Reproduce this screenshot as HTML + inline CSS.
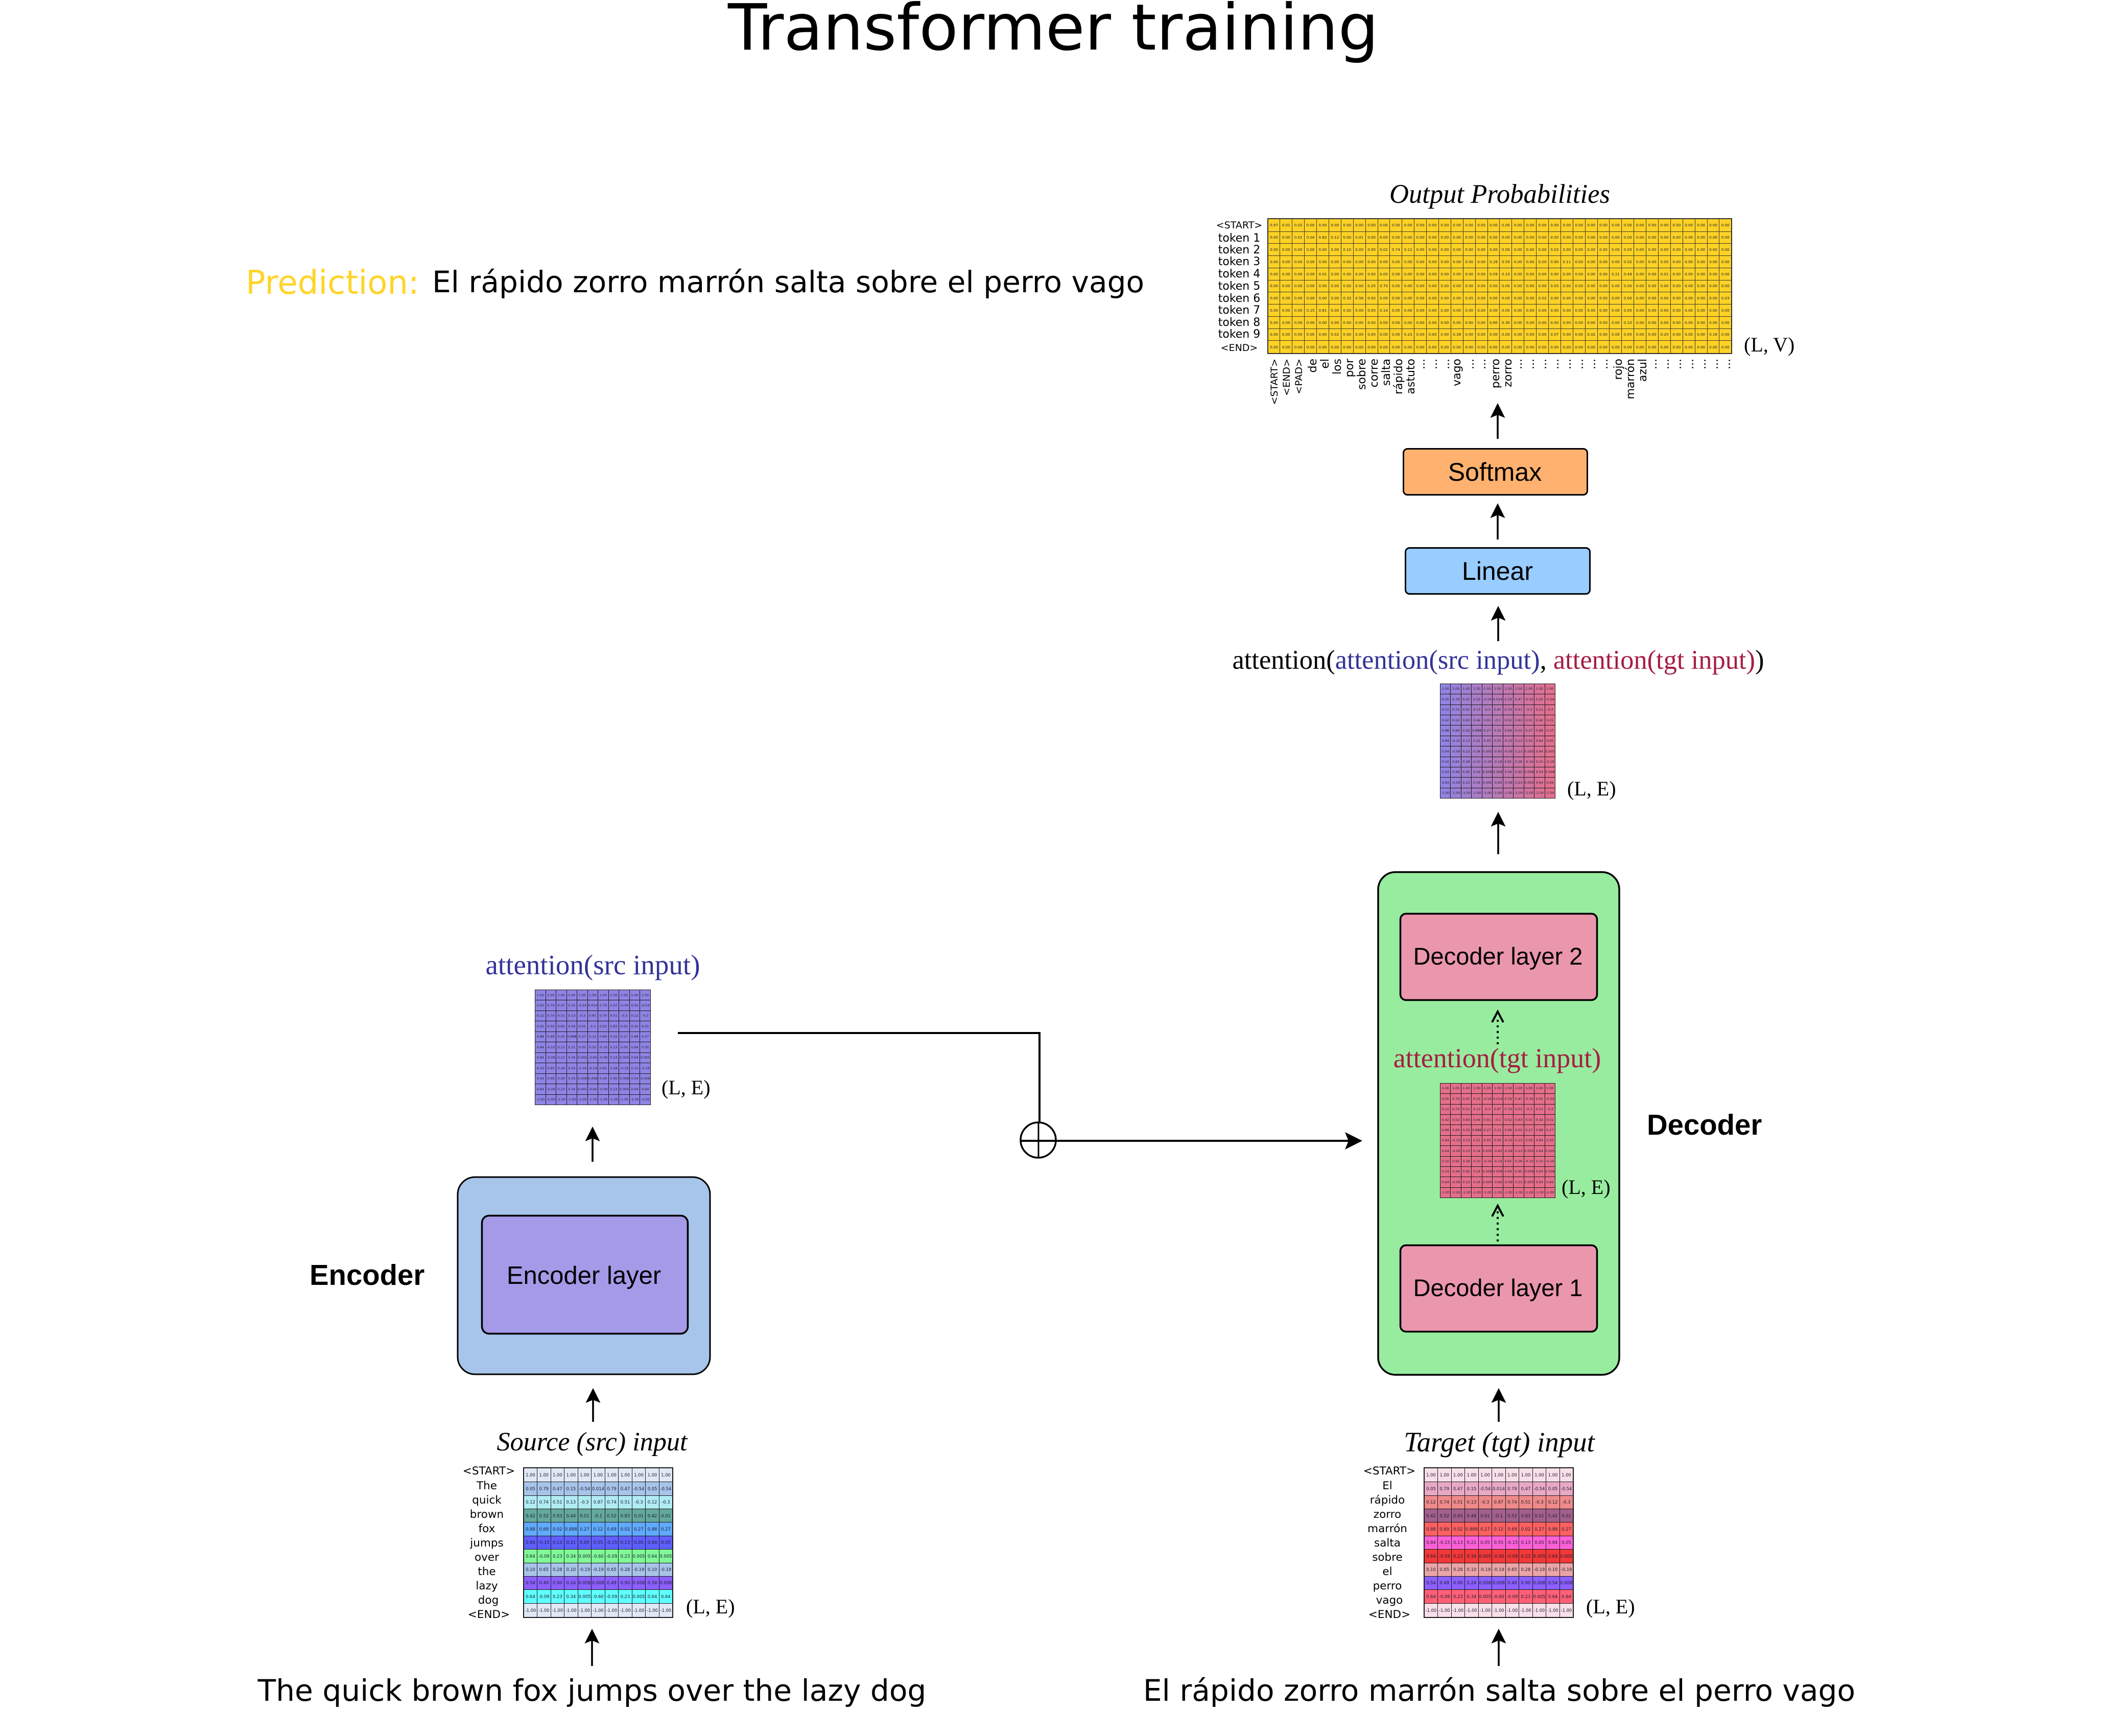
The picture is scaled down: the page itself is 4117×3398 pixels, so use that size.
<!DOCTYPE html>
<html><head><meta charset="utf-8"><style>
html,body{margin:0;padding:0;background:#fff}
body{position:relative;width:4117px;height:3398px;overflow:hidden}
svg{position:absolute;left:0;top:0}
table{position:absolute;border-collapse:collapse;table-layout:fixed;border:2px solid #1a1a1a}
td{padding:0;text-align:center;white-space:nowrap;overflow:visible;border:1px solid #1a1a1a;font-family:"DejaVu Sans",sans-serif;color:#1c1c30;line-height:1}
.s td{font-size:8.4px}
.a{border-width:1.5px}
.a td{font-size:6.4px}
.o td{font-size:7.2px;border-color:#3a3a2a}
.o{background:#fdd225;border-color:#333}
.d{font-family:"DejaVu Sans",sans-serif}
.f{font-family:"Liberation Serif",serif}
.h{font-family:"Liberation Sans",sans-serif}
.i{font-style:italic;font-size:52.2px;text-anchor:middle}
.le{font-size:40px}
.c{text-anchor:middle}
.r{font-size:22px;text-anchor:end}
.r2{font-size:19px;text-anchor:end}
</style></head><body>
<svg width="4117" height="3398" viewBox="0 0 4117 3398" xmlns="http://www.w3.org/2000/svg">
<defs><g id="up"><path d="M0 0L14.5 29L0 23L-14.5 29Z" fill="#000"/></g></defs>
<text class="d c" x="2062" y="97" font-size="125">Transformer training</text>
<text class="d" x="481" y="575" font-size="64" fill="#ffd42a">Prediction:</text>
<text class="d" x="846" y="572" font-size="58.2">El rápido zorro marrón salta sobre el perro vago</text>
<text class="f i" x="2936" y="397" style="font-size:52.6px">Output Probabilities</text>

<g class="d" font-size="22" text-anchor="middle">
<text x="2426" y="447" font-size="19">&lt;START&gt;</text><text x="2426" y="473">token 1</text><text x="2426" y="496">token 2</text><text x="2426" y="519">token 3</text><text x="2426" y="543">token 4</text><text x="2426" y="567">token 5</text><text x="2426" y="591">token 6</text><text x="2426" y="614">token 7</text><text x="2426" y="638">token 8</text><text x="2426" y="661">token 9</text><text x="2426" y="687" font-size="19">&lt;END&gt;</text>
</g>
<g class="d">
<text class="r2" transform="translate(2501,702) rotate(-90)">&lt;START&gt;</text>
<text class="r2" transform="translate(2525,702) rotate(-90)">&lt;END&gt;</text>
<text class="r2" transform="translate(2549,702) rotate(-90)">&lt;PAD&gt;</text>
<text class="r" transform="translate(2577,702) rotate(-90)">de</text>
<text class="r" transform="translate(2601,702) rotate(-90)">el</text>
<text class="r" transform="translate(2625,702) rotate(-90)">los</text>
<text class="r" transform="translate(2649,702) rotate(-90)">por</text>
<text class="r" transform="translate(2673,702) rotate(-90)">sobre</text>
<text class="r" transform="translate(2697,702) rotate(-90)">corre</text>
<text class="r" transform="translate(2721,702) rotate(-90)">salta</text>
<text class="r" transform="translate(2745,702) rotate(-90)">rápido</text>
<text class="r" transform="translate(2769,702) rotate(-90)">astuto</text>
<text class="r" transform="translate(2789,702) rotate(-90)">...</text>
<text class="r" transform="translate(2813,702) rotate(-90)">...</text>
<text class="r" transform="translate(2837,702) rotate(-90)">...</text>
<text class="r" transform="translate(2859,702) rotate(-90)">vago</text>
<text class="r" transform="translate(2885,702) rotate(-90)">...</text>
<text class="r" transform="translate(2908,702) rotate(-90)">...</text>
<text class="r" transform="translate(2935,702) rotate(-90)">perro</text>
<text class="r" transform="translate(2959,702) rotate(-90)">zorro</text>
<text class="r" transform="translate(2979,702) rotate(-90)">...</text>
<text class="r" transform="translate(3003,702) rotate(-90)">...</text>
<text class="r" transform="translate(3027,702) rotate(-90)">...</text>
<text class="r" transform="translate(3051,702) rotate(-90)">...</text>
<text class="r" transform="translate(3075,702) rotate(-90)">...</text>
<text class="r" transform="translate(3099,702) rotate(-90)">...</text>
<text class="r" transform="translate(3123,702) rotate(-90)">...</text>
<text class="r" transform="translate(3147,702) rotate(-90)">...</text>
<text class="r" transform="translate(3175,702) rotate(-90)">rojo</text>
<text class="r" transform="translate(3199,702) rotate(-90)">marrón</text>
<text class="r" transform="translate(3223,702) rotate(-90)">azul</text>
<text class="r" transform="translate(3243,702) rotate(-90)">...</text>
<text class="r" transform="translate(3267,702) rotate(-90)">...</text>
<text class="r" transform="translate(3291,702) rotate(-90)">...</text>
<text class="r" transform="translate(3315,702) rotate(-90)">...</text>
<text class="r" transform="translate(3339,702) rotate(-90)">...</text>
<text class="r" transform="translate(3363,702) rotate(-90)">...</text>
<text class="r" transform="translate(3387,702) rotate(-90)">...</text>
</g>
<text class="f le" x="3414" y="688">(L, V)</text>

<!-- arrows -->
<g stroke="#000" stroke-width="3.6" fill="none">
<path d="M2932 859V810M2932 1056V1005M2933 1255V1203M2933 1672V1610M1161 2783V2735M1160 2274V2225M1159 3261V3205M2934 2783V2735M2934 3261V3205"/>
<path d="M1327 2022H2035V2196" stroke-width="4" stroke-linejoin="miter"/>
<path d="M1997 2233H2645" stroke-width="4"/>
<path d="M2033 2196V2267" stroke-width="3"/>
<circle cx="2032.5" cy="2231.5" r="34.5" stroke-width="3.5"/>
</g>
<path d="M2667 2233L2633 2216L2640 2233L2633 2250Z" fill="#000"/>
<use href="#up" x="2932" y="789"/><use href="#up" x="2932" y="985"/><use href="#up" x="2933" y="1186"/><use href="#up" x="2933" y="1589"/>
<use href="#up" x="1160" y="2205"/><use href="#up" x="1161" y="2717"/><use href="#up" x="1159" y="3188"/><use href="#up" x="2934" y="2717"/><use href="#up" x="2934" y="3188"/>

<!-- boxes -->
<rect x="2747.5" y="878.5" width="360" height="90" rx="8" fill="#ffb26f" stroke="#000" stroke-width="3"/>
<text class="h c" x="2926.5" y="941" font-size="50">Softmax</text>
<rect x="2751.5" y="1072.5" width="361" height="90" rx="8" fill="#99ccff" stroke="#000" stroke-width="3"/>
<text class="h c" x="2931.5" y="1135" font-size="50">Linear</text>

<rect x="896" y="2304" width="494" height="386" rx="34" fill="#a7c4ea" stroke="#000" stroke-width="3"/>
<rect x="943.5" y="2379.5" width="403" height="231" rx="14" fill="#a59ae8" stroke="#000" stroke-width="3.5"/>
<text class="h c" x="1143" y="2513" font-size="49">Encoder layer</text>
<text class="h" x="606" y="2515" font-size="56.3" font-weight="bold">Encoder</text>

<rect x="2698" y="1707" width="472" height="984" rx="34" fill="#98ec9f" stroke="#000" stroke-width="3.5"/>
<rect x="2741.5" y="1788.5" width="385" height="169" rx="11" fill="#ea96ad" stroke="#000" stroke-width="3.5"/>
<text class="h c" x="2932.5" y="1888" font-size="47">Decoder layer 2</text>
<rect x="2741.5" y="2437.5" width="385" height="169" rx="11" fill="#ea96ad" stroke="#000" stroke-width="3.5"/>
<text class="h c" x="2932.5" y="2537" font-size="47">Decoder layer 1</text>
<text class="h" x="3224" y="2221" font-size="56.3" font-weight="bold">Decoder</text>

<!-- dotted arrows -->
<g stroke="#000" fill="none" stroke-width="4">
<path d="M2932 2044V1995M2932 2430V2368" stroke-dasharray="4 7"/>
<path d="M2921 2381L2932 2360L2943 2381M2921 2001L2932 1980L2943 2001"/>
</g>

<text class="f c" x="2933" y="1309" font-size="52.5">attention(<tspan fill="#333399">attention(src input)</tspan>, <tspan fill="#a61e42">attention(tgt input)</tspan>)</text>
<text class="f c" x="1160.5" y="1907" font-size="55" fill="#333399">attention(src input)</text>
<text class="f c" x="2931" y="2089" font-size="54" fill="#a61e42">attention(tgt input)</text>
<text class="f le" x="3068" y="1557">(L, E)</text>
<text class="f le" x="1295" y="2142">(L, E)</text>
<text class="f le" x="3057" y="2337">(L, E)</text>
<text class="f le" x="1343" y="3158">(L, E)</text>
<text class="f le" x="3105" y="3158">(L, E)</text>
<text class="f i" x="1159" y="2839">Source (src) input</text>
<text class="f i" x="2935" y="2841" style="font-size:54.8px">Target (tgt) input</text>

<g class="d c" font-size="21.5">
<text x="957" y="2886">&lt;START&gt;</text><text x="953" y="2915">The</text><text x="953" y="2943">quick</text><text x="953" y="2971">brown</text><text x="953" y="2999">fox</text><text x="953" y="3027">jumps</text><text x="953" y="3055">over</text><text x="953" y="3083">the</text><text x="953" y="3111">lazy</text><text x="956" y="3139">dog</text><text x="957" y="3167">&lt;END&gt;</text>
<text x="2720" y="2886">&lt;START&gt;</text><text x="2716" y="2915">El</text><text x="2716" y="2943">rápido</text><text x="2716" y="2971">zorro</text><text x="2716" y="2999">marrón</text><text x="2716" y="3027">salta</text><text x="2716" y="3055">sobre</text><text x="2716" y="3083">el</text><text x="2716" y="3111">perro</text><text x="2720" y="3139">vago</text><text x="2720" y="3167">&lt;END&gt;</text>
</g>
<text class="d c" x="1159" y="3329" font-size="58.2">The quick brown fox jumps over the lazy dog</text>
<text class="d c" x="2935" y="3329" font-size="58.2">El rápido zorro marrón salta sobre el perro vago</text>
</svg>

<!-- output table -->
<table class="o" style="left:2481px;top:427px;width:910px;height:266px">
<tr><td>0.97<td>0.01<td>0.02<td>0.00<td>0.00<td>0.00<td>0.00<td>0.00<td>0.00<td>0.00<td>0.00<td>0.00<td>0.00<td>0.00<td>0.00<td>0.00<td>0.00<td>0.00<td>0.00<td>0.00<td>0.00<td>0.00<td>0.00<td>0.00<td>0.00<td>0.00<td>0.00<td>0.00<td>0.00<td>0.00<td>0.00<td>0.00<td>0.00<td>0.00<td>0.00<td>0.00<td>0.00<td>0.00
<tr><td>0.00<td>0.00<td>0.01<td>0.04<td>0.82<td>0.12<td>0.00<td>0.01<td>0.00<td>0.00<td>0.00<td>0.00<td>0.00<td>0.00<td>0.00<td>0.00<td>0.00<td>0.00<td>0.00<td>0.00<td>0.00<td>0.00<td>0.00<td>0.00<td>0.00<td>0.00<td>0.00<td>0.00<td>0.00<td>0.00<td>0.00<td>0.00<td>0.00<td>0.00<td>0.00<td>0.00<td>0.00<td>0.00
<tr><td>0.00<td>0.00<td>0.00<td>0.00<td>0.00<td>0.00<td>0.10<td>0.00<td>0.00<td>0.02<td>0.74<td>0.11<td>0.00<td>0.00<td>0.00<td>0.00<td>0.00<td>0.00<td>0.00<td>0.00<td>0.00<td>0.00<td>0.00<td>0.03<td>0.00<td>0.00<td>0.00<td>0.00<td>0.00<td>0.00<td>0.00<td>0.00<td>0.00<td>0.00<td>0.00<td>0.00<td>0.00<td>0.00
<tr><td>0.00<td>0.00<td>0.00<td>0.00<td>0.00<td>0.00<td>0.00<td>0.00<td>0.00<td>0.00<td>0.00<td>0.00<td>0.00<td>0.00<td>0.00<td>0.00<td>0.00<td>0.00<td>0.28<td>0.59<td>0.00<td>0.00<td>0.00<td>0.00<td>0.11<td>0.00<td>0.00<td>0.00<td>0.00<td>0.02<td>0.00<td>0.00<td>0.00<td>0.00<td>0.00<td>0.00<td>0.00<td>0.00
<tr><td>0.00<td>0.00<td>0.00<td>0.00<td>0.01<td>0.00<td>0.00<td>0.00<td>0.00<td>0.00<td>0.00<td>0.00<td>0.00<td>0.00<td>0.00<td>0.00<td>0.00<td>0.00<td>0.09<td>0.19<td>0.00<td>0.00<td>0.00<td>0.00<td>0.00<td>0.00<td>0.00<td>0.00<td>0.21<td>0.49<td>0.00<td>0.00<td>0.01<td>0.00<td>0.00<td>0.00<td>0.00<td>0.00
<tr><td>0.00<td>0.00<td>0.00<td>0.00<td>0.00<td>0.00<td>0.00<td>0.00<td>0.25<td>0.70<td>0.00<td>0.00<td>0.00<td>0.00<td>0.00<td>0.00<td>0.00<td>0.00<td>0.00<td>0.00<td>0.00<td>0.00<td>0.00<td>0.05<td>0.00<td>0.00<td>0.00<td>0.00<td>0.00<td>0.00<td>0.00<td>0.00<td>0.00<td>0.00<td>0.00<td>0.00<td>0.00<td>0.00
<tr><td>0.00<td>0.00<td>0.00<td>0.00<td>0.00<td>0.00<td>0.32<td>0.58<td>0.00<td>0.00<td>0.00<td>0.00<td>0.00<td>0.00<td>0.00<td>0.00<td>0.05<td>0.00<td>0.00<td>0.00<td>0.00<td>0.00<td>0.02<td>0.00<td>0.00<td>0.00<td>0.00<td>0.00<td>0.00<td>0.00<td>0.00<td>0.00<td>0.00<td>0.00<td>0.00<td>0.00<td>0.00<td>0.03
<tr><td>0.00<td>0.00<td>0.00<td>0.15<td>0.81<td>0.00<td>0.00<td>0.00<td>0.00<td>0.14<td>0.00<td>0.00<td>0.00<td>0.00<td>0.00<td>0.00<td>0.00<td>0.00<td>0.00<td>0.00<td>0.00<td>0.00<td>0.00<td>0.00<td>0.00<td>0.00<td>0.00<td>0.00<td>0.00<td>0.00<td>0.00<td>0.00<td>0.00<td>0.00<td>0.00<td>0.00<td>0.00<td>0.00
<tr><td>0.00<td>0.00<td>0.00<td>0.00<td>0.00<td>0.00<td>0.00<td>0.00<td>0.00<td>0.00<td>0.00<td>0.00<td>0.00<td>0.00<td>0.00<td>0.00<td>0.00<td>0.00<td>0.60<td>0.30<td>0.00<td>0.00<td>0.00<td>0.00<td>0.00<td>0.00<td>0.00<td>0.00<td>0.00<td>0.10<td>0.00<td>0.00<td>0.00<td>0.00<td>0.00<td>0.00<td>0.00<td>0.00
<tr><td>0.00<td>0.00<td>0.00<td>0.00<td>0.00<td>0.02<td>0.00<td>0.00<td>0.00<td>0.00<td>0.00<td>0.23<td>0.00<td>0.00<td>0.00<td>0.38<td>0.00<td>0.00<td>0.00<td>0.00<td>0.00<td>0.00<td>0.00<td>0.07<td>0.00<td>0.00<td>0.02<td>0.00<td>0.00<td>0.00<td>0.00<td>0.00<td>0.20<td>0.00<td>0.00<td>0.00<td>0.18<td>0.00
<tr><td>0.00<td>0.00<td>0.00<td>0.00<td>0.00<td>0.00<td>0.00<td>0.00<td>0.00<td>0.00<td>0.00<td>0.00<td>0.00<td>0.00<td>0.00<td>0.00<td>0.00<td>0.00<td>0.00<td>0.00<td>0.00<td>0.00<td>0.00<td>0.00<td>0.00<td>0.00<td>0.00<td>0.00<td>0.00<td>0.00<td>0.00<td>0.00<td>0.00<td>0.00<td>0.00<td>0.00<td>0.00<td>0.00
</table>

<!-- combined attention -->
<table class="a" style="left:2819px;top:1338px;width:226px;height:225px;background:linear-gradient(90deg,#8f84e4,#e56f8a)">
<tr><td>1.00<td>1.00<td>1.00<td>1.00<td>1.00<td>1.00<td>1.00<td>1.00<td>1.00<td>1.00<td>1.00
<tr><td>0.05<td>0.79<td>0.47<td>0.15<td>-0.54<td>0.014<td>0.79<td>0.47<td>-0.54<td>0.05<td>-0.54
<tr><td>0.12<td>0.74<td>0.51<td>0.13<td>-0.3<td>0.87<td>0.74<td>0.51<td>-0.3<td>0.12<td>-0.3
<tr><td>0.42<td>0.52<td>0.83<td>0.44<td>0.01<td>-0.1<td>0.52<td>0.83<td>0.01<td>0.42<td>0.01
<tr><td>0.88<td>0.69<td>0.02<td>0.888<td>0.27<td>0.12<td>0.69<td>0.02<td>0.27<td>0.88<td>0.27
<tr><td>0.84<td>-0.15<td>0.13<td>0.21<td>0.05<td>0.55<td>-0.15<td>0.13<td>0.05<td>0.84<td>0.05
<tr><td>0.64<td>-0.09<td>0.23<td>0.34<td>0.005<td>-0.60<td>-0.09<td>0.23<td>0.005<td>0.64<td>0.005
<tr><td>0.10<td>0.65<td>0.28<td>0.10<td>-0.19<td>-0.19<td>0.65<td>0.28<td>-0.19<td>0.10<td>-0.19
<tr><td>0.54<td>0.49<td>0.90<td>0.24<td>0.008<td>0.008<td>0.49<td>0.90<td>0.008<td>0.54<td>0.008
<tr><td>0.64<td>-0.09<td>0.23<td>0.34<td>0.005<td>-0.60<td>-0.09<td>0.23<td>0.005<td>0.64<td>0.64
<tr><td>-1.00<td>-1.00<td>-1.00<td>-1.00<td>-1.00<td>-1.00<td>-1.00<td>-1.00<td>-1.00<td>-1.00<td>-1.00
</table>

<!-- src attention -->
<table class="a" style="left:1047px;top:1937px;width:227px;height:226px;background:#8f84e4">
<tr><td>1.00<td>1.00<td>1.00<td>1.00<td>1.00<td>1.00<td>1.00<td>1.00<td>1.00<td>1.00<td>1.00
<tr><td>0.05<td>0.79<td>0.47<td>0.15<td>-0.54<td>0.014<td>0.79<td>0.47<td>-0.54<td>0.05<td>-0.54
<tr><td>0.12<td>0.74<td>0.51<td>0.13<td>-0.3<td>0.87<td>0.74<td>0.51<td>-0.3<td>0.12<td>-0.3
<tr><td>0.42<td>0.52<td>0.83<td>0.44<td>0.01<td>-0.1<td>0.52<td>0.83<td>0.01<td>0.42<td>0.01
<tr><td>0.88<td>0.69<td>0.02<td>0.888<td>0.27<td>0.12<td>0.69<td>0.02<td>0.27<td>0.88<td>0.27
<tr><td>0.84<td>-0.15<td>0.13<td>0.21<td>0.05<td>0.55<td>-0.15<td>0.13<td>0.05<td>0.84<td>0.05
<tr><td>0.64<td>-0.09<td>0.23<td>0.34<td>0.005<td>-0.60<td>-0.09<td>0.23<td>0.005<td>0.64<td>0.005
<tr><td>0.10<td>0.65<td>0.28<td>0.10<td>-0.19<td>-0.19<td>0.65<td>0.28<td>-0.19<td>0.10<td>-0.19
<tr><td>0.54<td>0.49<td>0.90<td>0.24<td>0.008<td>0.008<td>0.49<td>0.90<td>0.008<td>0.54<td>0.008
<tr><td>0.64<td>-0.09<td>0.23<td>0.34<td>0.005<td>-0.60<td>-0.09<td>0.23<td>0.005<td>0.64<td>0.64
<tr><td>-1.00<td>-1.00<td>-1.00<td>-1.00<td>-1.00<td>-1.00<td>-1.00<td>-1.00<td>-1.00<td>-1.00<td>-1.00
</table>

<!-- tgt attention -->
<table class="a" style="left:2819px;top:2120px;width:226px;height:225px;background:#e56f8a">
<tr><td>1.00<td>1.00<td>1.00<td>1.00<td>1.00<td>1.00<td>1.00<td>1.00<td>1.00<td>1.00<td>1.00
<tr><td>0.05<td>0.79<td>0.47<td>0.15<td>-0.54<td>0.014<td>0.79<td>0.47<td>-0.54<td>0.05<td>-0.54
<tr><td>0.12<td>0.74<td>0.51<td>0.13<td>-0.3<td>0.87<td>0.74<td>0.51<td>-0.3<td>0.12<td>-0.3
<tr><td>0.42<td>0.52<td>0.83<td>0.44<td>0.01<td>-0.1<td>0.52<td>0.83<td>0.01<td>0.42<td>0.01
<tr><td>0.88<td>0.69<td>0.02<td>0.888<td>0.27<td>0.12<td>0.69<td>0.02<td>0.27<td>0.88<td>0.27
<tr><td>0.84<td>-0.15<td>0.13<td>0.21<td>0.05<td>0.55<td>-0.15<td>0.13<td>0.05<td>0.84<td>0.05
<tr><td>0.64<td>-0.09<td>0.23<td>0.34<td>0.005<td>-0.60<td>-0.09<td>0.23<td>0.005<td>0.64<td>0.005
<tr><td>0.10<td>0.65<td>0.28<td>0.10<td>-0.19<td>-0.19<td>0.65<td>0.28<td>-0.19<td>0.10<td>-0.19
<tr><td>0.54<td>0.49<td>0.90<td>0.24<td>0.008<td>0.008<td>0.49<td>0.90<td>0.008<td>0.54<td>0.008
<tr><td>0.64<td>-0.09<td>0.23<td>0.34<td>0.005<td>-0.60<td>-0.09<td>0.23<td>0.005<td>0.64<td>0.64
<tr><td>-1.00<td>-1.00<td>-1.00<td>-1.00<td>-1.00<td>-1.00<td>-1.00<td>-1.00<td>-1.00<td>-1.00<td>-1.00
</table>

<!-- source table -->
<table class="s" style="left:1024px;top:2872px;width:294px;height:295px">
<tr style="background:#e0e8f6"><td>1.00<td>1.00<td>1.00<td>1.00<td>1.00<td>1.00<td>1.00<td>1.00<td>1.00<td>1.00<td>1.00
<tr style="background:#a7c4ea"><td>0.05<td>0.79<td>0.47<td>0.15<td>-0.54<td>0.014<td>0.79<td>0.47<td>-0.54<td>0.05<td>-0.54
<tr style="background:#b0ecf3"><td>0.12<td>0.74<td>0.51<td>0.13<td>-0.3<td>0.87<td>0.74<td>0.51<td>-0.3<td>0.12<td>-0.3
<tr style="background:#64a89c"><td>0.42<td>0.52<td>0.83<td>0.44<td>0.01<td>-0.1<td>0.52<td>0.83<td>0.01<td>0.42<td>0.01
<tr style="background:#60aaff"><td>0.88<td>0.69<td>0.02<td>0.888<td>0.27<td>0.12<td>0.69<td>0.02<td>0.27<td>0.88<td>0.27
<tr style="background:#5f5fff"><td>0.84<td>-0.15<td>0.13<td>0.21<td>0.05<td>0.55<td>-0.15<td>0.13<td>0.05<td>0.84<td>0.05
<tr style="background:#80f898"><td>0.64<td>-0.09<td>0.23<td>0.34<td>0.005<td>-0.60<td>-0.09<td>0.23<td>0.005<td>0.64<td>0.005
<tr style="background:#a8c4ea"><td>0.10<td>0.65<td>0.28<td>0.10<td>-0.19<td>-0.19<td>0.65<td>0.28<td>-0.19<td>0.10<td>-0.19
<tr style="background:#8c5fff"><td>0.54<td>0.49<td>0.90<td>0.24<td>0.008<td>0.008<td>0.49<td>0.90<td>0.008<td>0.54<td>0.008
<tr style="background:#60ffff"><td>0.64<td>-0.09<td>0.23<td>0.34<td>0.005<td>-0.60<td>-0.09<td>0.23<td>0.005<td>0.64<td>0.64
<tr style="background:#e0e8f6"><td>-1.00<td>-1.00<td>-1.00<td>-1.00<td>-1.00<td>-1.00<td>-1.00<td>-1.00<td>-1.00<td>-1.00<td>-1.00
</table>

<!-- target table -->
<table class="s" style="left:2787px;top:2872px;width:294px;height:295px">
<tr style="background:#f8dfe8"><td>1.00<td>1.00<td>1.00<td>1.00<td>1.00<td>1.00<td>1.00<td>1.00<td>1.00<td>1.00<td>1.00
<tr style="background:#e9a9c6"><td>0.05<td>0.79<td>0.47<td>0.15<td>-0.54<td>0.014<td>0.79<td>0.47<td>-0.54<td>0.05<td>-0.54
<tr style="background:#f08a8a"><td>0.12<td>0.74<td>0.51<td>0.13<td>-0.3<td>0.87<td>0.74<td>0.51<td>-0.3<td>0.12<td>-0.3
<tr style="background:#a3608c"><td>0.42<td>0.52<td>0.83<td>0.44<td>0.01<td>-0.1<td>0.52<td>0.83<td>0.01<td>0.42<td>0.01
<tr style="background:#ff6060"><td>0.88<td>0.69<td>0.02<td>0.888<td>0.27<td>0.12<td>0.69<td>0.02<td>0.27<td>0.88<td>0.27
<tr style="background:#ff60d8"><td>0.84<td>-0.15<td>0.13<td>0.21<td>0.05<td>0.55<td>-0.15<td>0.13<td>0.05<td>0.84<td>0.05
<tr style="background:#f23838"><td>0.64<td>-0.09<td>0.23<td>0.34<td>0.005<td>-0.60<td>-0.09<td>0.23<td>0.005<td>0.64<td>0.005
<tr style="background:#eba5a8"><td>0.10<td>0.65<td>0.28<td>0.10<td>-0.19<td>-0.19<td>0.65<td>0.28<td>-0.19<td>0.10<td>-0.19
<tr style="background:#8c5fff"><td>0.54<td>0.49<td>0.90<td>0.24<td>0.008<td>0.008<td>0.49<td>0.90<td>0.008<td>0.54<td>0.008
<tr style="background:#ff6078"><td>0.64<td>-0.09<td>0.23<td>0.34<td>0.005<td>-0.60<td>-0.09<td>0.23<td>0.005<td>0.64<td>0.64
<tr style="background:#f8dfe8"><td>-1.00<td>-1.00<td>-1.00<td>-1.00<td>-1.00<td>-1.00<td>-1.00<td>-1.00<td>-1.00<td>-1.00<td>-1.00
</table>
</body></html>
